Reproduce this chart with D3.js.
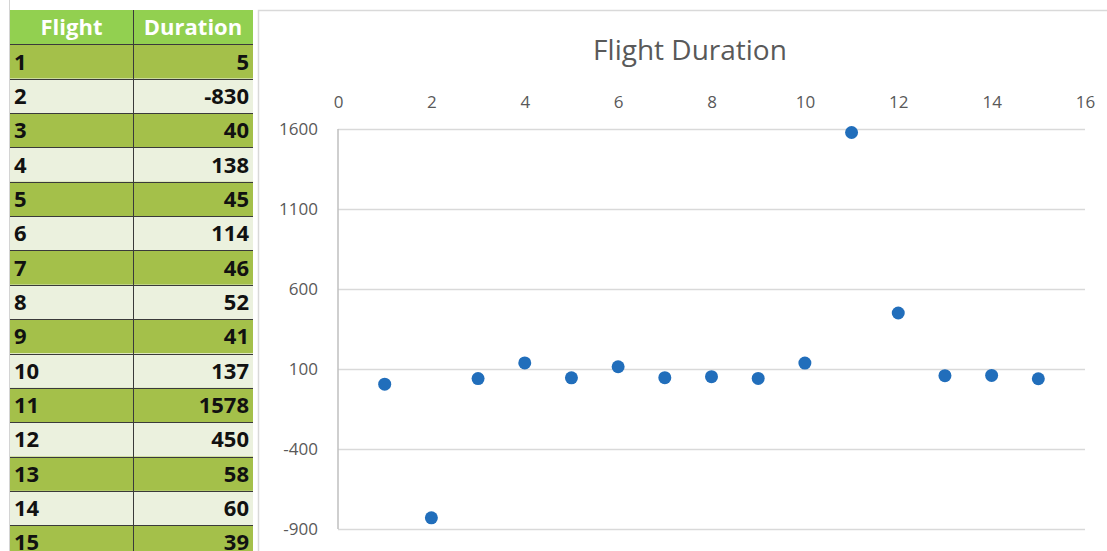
<!DOCTYPE html>
<html>
<head>
<meta charset="utf-8">
<script src="https://cdn.jsdelivr.net/npm/d3@7"></script>
<style>
  html, body { margin: 0; padding: 0; background: #ffffff; }
  svg { display: block; }
</style>
</head>
<body>
<svg id="sheet" width="1107" height="551"></svg>
<script>
// Flight numbers and their recorded durations
const flights = [1, 2, 3, 4, 5, 6, 7, 8, 9, 10, 11, 12, 13, 14, 15];
const durations = [5, -830, 40, 138, 45, 114, 46, 52, 41, 137, 1578, 450, 58, 60, 39];
const headers = ["Flight", "Duration"];
const xTicks = [0, 2, 4, 6, 8, 10, 12, 14, 16];
const yTicks = [-900, -400, 100, 600, 1100, 1600];
const chartTitle = "Flight Duration";

const svg = d3.select("#sheet");

// ---------- data table ----------
const tableLeft = 10, colSplit = 133, tableRight = 253, tableTop = 10;
const rowScale = d3.scaleBand()
  .domain(["head"].concat(flights.map(String)))
  .range([tableTop, tableTop + 16 * 34.35])
  .paddingInner(0).paddingOuter(0);
const rh = rowScale.bandwidth();

const table = svg.append("g");
const tableFont = "'Open Sans', 'Liberation Sans', sans-serif";

// faint worksheet gridline left of the table
svg.append("line").attr("x1", 9.5).attr("x2", 9.5).attr("y1", 0).attr("y2", 551)
  .attr("stroke", "#d4d4d4");

// header row
table.append("rect")
  .attr("x", tableLeft).attr("y", rowScale("head"))
  .attr("width", tableRight - tableLeft).attr("height", rh)
  .attr("fill", "#92D050");
table.selectAll("text.head").data(headers).join("text")
  .attr("class", "head")
  .attr("x", (d, i) => i === 0 ? (tableLeft + colSplit) / 2 : (colSplit + tableRight) / 2)
  .attr("y", rowScale("head") + rh / 2 + 8)
  .attr("text-anchor", "middle")
  .attr("font-family", tableFont).attr("font-weight", "bold").attr("font-size", 22)
  .attr("fill", "#ffffff")
  .text(d => d);

// body rows, banded
const rows = table.selectAll("g.row").data(flights).join("g").attr("class", "row");
rows.append("rect")
  .attr("x", tableLeft).attr("y", d => rowScale(String(d)))
  .attr("width", tableRight - tableLeft).attr("height", rh)
  .attr("fill", (d, i) => i % 2 === 0 ? "#A4C04A" : "#EBF1DE");
rows.append("text")
  .attr("x", tableLeft + 4)
  .attr("y", d => rowScale(String(d)) + rh / 2 + 8)
  .attr("font-family", tableFont).attr("font-weight", "bold").attr("font-size", 22)
  .attr("fill", "#111111")
  .text(d => d);
rows.append("text")
  .attr("x", tableRight - 4)
  .attr("y", d => rowScale(String(d)) + rh / 2 + 8)
  .attr("text-anchor", "end")
  .attr("font-family", tableFont).attr("font-weight", "bold").attr("font-size", 22)
  .attr("fill", "#111111")
  .text((d, i) => durations[i]);

// row separators and column divider
table.selectAll("line.sep").data(flights).join("line")
  .attr("class", "sep")
  .attr("x1", tableLeft).attr("x2", tableRight)
  .attr("y1", d => Math.round(rowScale(String(d))) + 0.5)
  .attr("y2", d => Math.round(rowScale(String(d))) + 0.5)
  .attr("stroke", "#3a3a3a").attr("stroke-width", 1);
table.append("line")
  .attr("x1", colSplit + 0.5).attr("x2", colSplit + 0.5)
  .attr("y1", tableTop).attr("y2", 551)
  .attr("stroke", "#3a3a3a");

// ---------- chart ----------
const chart = svg.append("g");
chart.append("rect")
  .attr("x", 258.5).attr("y", 10.5).attr("width", 900).attr("height", 600)
  .attr("fill", "#ffffff").attr("stroke", "#d9d9d9").attr("stroke-width", 1.5);

const plot = { left: 338, right: 1085, top: 129, bottom: 529 };
const x = d3.scaleLinear().domain([0, 16]).range([plot.left, plot.right]);
const y = d3.scaleLinear().domain([-900, 1600]).range([plot.bottom, plot.top]);

const axisFont = "'Open Sans', 'Liberation Sans', sans-serif";

chart.append("text")
  .attr("x", 690).attr("y", 60)
  .attr("text-anchor", "middle")
  .attr("font-family", axisFont).attr("font-size", 28)
  .attr("fill", "#595959")
  .text(chartTitle);

// horizontal gridlines with value labels on the left
const yAxis = d3.axisLeft(y).tickValues(yTicks)
  .tickSize(-(plot.right - plot.left)).tickPadding(20).tickFormat(d => String(d));
const gy = chart.append("g").attr("transform", `translate(${plot.left},0)`).call(yAxis);
gy.select(".domain").remove();
gy.selectAll(".tick line").attr("stroke", "#d9d9d9").attr("stroke-width", 1.5);
gy.selectAll(".tick text")
  .attr("font-family", axisFont).attr("font-size", 17).attr("fill", "#595959");

// value axis line
chart.append("line")
  .attr("x1", plot.left).attr("x2", plot.left)
  .attr("y1", plot.top).attr("y2", plot.bottom)
  .attr("stroke", "#bfbfbf").attr("stroke-width", 1.5);

// flight-number labels along the top
const xAxis = d3.axisTop(x).tickValues(xTicks).tickSize(0).tickPadding(21);
const gx = chart.append("g").attr("transform", `translate(0,${plot.top})`).call(xAxis);
gx.select(".domain").remove();
gx.selectAll(".tick text")
  .attr("font-family", axisFont).attr("font-size", 17).attr("fill", "#595959");

// scatter points
chart.selectAll("circle.pt").data(flights).join("circle")
  .attr("class", "pt")
  .attr("cx", d => x(d))
  .attr("cy", (d, i) => y(durations[i]))
  .attr("r", 6.5)
  .attr("fill", "#216EBB");
</script>
</body>
</html>
